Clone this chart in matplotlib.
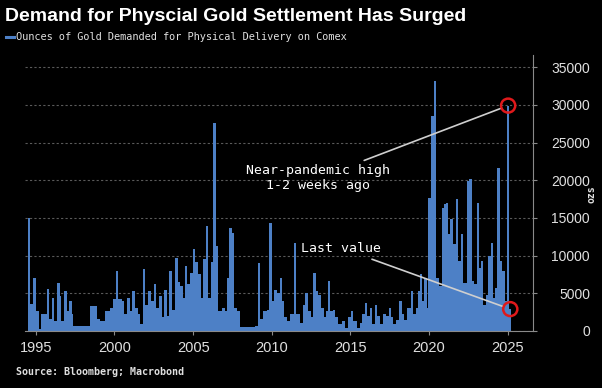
import matplotlib
matplotlib.use("Agg")
import matplotlib.pyplot as plt
from matplotlib.patches import Ellipse

plt.rcParams["font.family"] = ["Liberation Sans", "DejaVu Sans"]

# bin edges (decimal years) and values (ozs)
edges = [
    1994.50, 1994.63, 1994.82, 1995.04, 1995.20, 1995.33, 1995.71, 1995.84,
    1996.03, 1996.16, 1996.35, 1996.51, 1996.63, 1996.79, 1996.95, 1997.11,
    1997.27, 1997.36, 1998.45, 1998.86, 1999.08, 1999.40, 1999.72, 1999.91,
    2000.10, 2000.22, 2000.45, 2000.61, 2000.77, 2000.99, 2001.12, 2001.31,
    2001.47, 2001.62, 2001.81, 2001.97, 2002.13, 2002.32, 2002.51, 2002.67,
    2002.83, 2002.99, 2003.15, 2003.31, 2003.47, 2003.63, 2003.85, 2004.01,
    2004.17, 2004.33, 2004.49, 2004.64, 2004.80, 2004.99, 2005.12, 2005.31,
    2005.50, 2005.63, 2005.82, 2005.95, 2006.14, 2006.27, 2006.46, 2006.58,
    2006.81, 2007.03, 2007.15, 2007.28, 2007.44, 2007.60, 2007.76, 2007.98,
    2008.93, 2009.13, 2009.28, 2009.44, 2009.67, 2009.83, 2009.99, 2010.15,
    2010.30, 2010.52, 2010.65, 2010.78, 2010.94, 2011.16, 2011.41, 2011.57,
    2011.80, 2011.99, 2012.14, 2012.30, 2012.49, 2012.62, 2012.78, 2012.94,
    2013.13, 2013.29, 2013.42, 2013.58, 2013.70, 2013.89, 2014.05, 2014.21,
    2014.46, 2014.66, 2014.85, 2015.04, 2015.16, 2015.42, 2015.61, 2015.74,
    2015.93, 2016.05, 2016.25, 2016.40, 2016.56, 2016.69, 2016.88, 2017.07,
    2017.26, 2017.45, 2017.61, 2017.71, 2017.90, 2018.08, 2018.25, 2018.41,
    2018.57, 2018.86, 2018.98, 2019.17, 2019.30, 2019.43, 2019.52, 2019.68,
    2019.84, 2019.93, 2020.12, 2020.31, 2020.47, 2020.63, 2020.79, 2020.95,
    2021.08, 2021.20, 2021.36, 2021.52, 2021.71, 2021.84, 2022.00, 2022.16,
    2022.38, 2022.54, 2022.70, 2022.86, 2023.02, 2023.18, 2023.33, 2023.43,
    2023.59, 2023.75, 2023.94, 2024.07, 2024.20, 2024.32, 2024.51, 2024.61,
    2024.80, 2024.95, 2025.10, 2025.22,
]
values = [
    15000, 3600, 7000, 2600, 300, 2200, 5600, 1600,
    4400, 1300, 6400, 4600, 1300, 5300, 2600, 4000,
    2200, 700, 3300, 1600, 1300, 2600, 3000, 4300,
    8000, 4200, 4000, 2200, 4400, 2600, 5300, 3000,
    2200, 900, 8200, 3500, 5300, 4000, 6200, 3000,
    4600, 1800, 5500, 2000, 8000, 2800, 9700, 6500,
    6000, 4400, 8600, 6200, 7700, 10900, 9100, 7500,
    4400, 9500, 13900, 4400, 9100, 27600, 11300, 2600,
    3000, 2600, 7000, 13700, 13000, 3000, 2600, 500,
    700, 9000, 1600, 2600, 2800, 14300, 4000, 5500,
    5000, 7000, 4000, 1800, 1300, 2200, 11700, 2200,
    1000, 3500, 5000, 2600, 1800, 7700, 5300, 4800,
    3000, 1800, 2600, 6600, 2600, 2800, 1800, 900,
    1300, 400, 1800, 2700, 1300, 400, 1100, 2200,
    3700, 2000, 3100, 900, 3500, 2000, 900, 2200,
    2000, 3100, 1800, 900, 1500, 4000, 2200, 1500,
    3100, 5300, 2200, 3100, 5300, 7600, 4000, 7000,
    3000, 17600, 28500, 33200, 7000, 6000, 16300, 16800,
    17000, 12900, 14900, 11500, 17500, 9300, 12900, 6400,
    19900, 20200, 6600, 6200, 17000, 8400, 9300, 3500,
    4800, 9900, 11700, 4400, 5700, 21600, 9300, 8000,
    4000, 29900, 2900,
]

yticks = [0, 5000, 10000, 15000, 20000, 25000, 30000, 35000]
xticks = [1995, 2000, 2005, 2010, 2015, 2020, 2025]

BG = "black"
BLUE = "#4d80c6"
TXT = "#e0e0e0"
MONO = "DejaVu Sans Mono"

fig = plt.figure(figsize=(6.02, 3.88), dpi=100, facecolor=BG)
ax = fig.add_axes([0.0415, 0.147, 0.844, 0.711], facecolor=BG)

ax.stairs(values, edges, fill=True, color=BLUE, linewidth=0)

ax.set_xlim(1994.31, 2026.61)
ax.set_ylim(0, 36600)
ax.set_xticks(xticks)
ax.set_yticks(yticks)
ax.yaxis.tick_right()
ax.grid(axis="y", color="#5a5a5a", linestyle=(0, (2, 2)), linewidth=0.8)
ax.set_axisbelow(True)

for side in ["top", "left"]:
    ax.spines[side].set_visible(False)
for side in ["bottom", "right"]:
    ax.spines[side].set_color("#8a8a8a")
    ax.spines[side].set_linewidth(0.8)

ax.tick_params(axis="x", colors="#8a8a8a", length=3, labelcolor=TXT,
               labelsize=10.5, pad=4)
ax.tick_params(axis="y", colors="#8a8a8a", length=3, labelcolor=TXT,
               labelsize=10, pad=38)
for lab in ax.get_yticklabels():
    lab.set_horizontalalignment("right")

fig.text(0.983, 0.50, "ozs", rotation=90, color=TXT, fontsize=7,
         fontweight="bold", ha="center", va="center", family=MONO)

# title, legend key, source
fig.text(0.008, 0.957, "Demand for Physcial Gold Settlement Has Surged",
         color="white", fontsize=14, fontweight="bold", va="center")
fig.add_artist(plt.Line2D([0.010, 0.024], [0.905, 0.905], color=BLUE, lw=2.2))
fig.text(0.027, 0.905, "Ounces of Gold Demanded for Physical Delivery on Comex",
         color=TXT, fontsize=7.4, family=MONO, va="center")
fig.text(0.027, 0.041, "Source: Bloomberg; Macrobond", color=TXT,
         fontsize=7.2, fontweight="bold", family=MONO, va="center")

# annotations
hi_x, hi_y = (edges[-3] + edges[-2]) / 2, values[-2]
lo_x, lo_y = (edges[-2] + edges[-1]) / 2, values[-1]
ax.annotate("Near-pandemic high\n1-2 weeks ago", xy=(hi_x, hi_y),
            xytext=(2012.95, 20300), color="white", fontsize=9.5,
            family=MONO, ha="center", va="center", linespacing=1.15,
            arrowprops=dict(arrowstyle="-", color="#cfcfcf", lw=1.2,
                            shrinkA=2, shrinkB=6))
ax.annotate("Last value", xy=(lo_x, lo_y), xytext=(2014.4, 11000),
            color="white", fontsize=9.5, family=MONO,
            ha="center", va="center",
            arrowprops=dict(arrowstyle="-", color="#cfcfcf", lw=1.2,
                            shrinkA=4, shrinkB=6))

for cx, cy in [(hi_x, hi_y), (lo_x, lo_y)]:
    ax.add_patch(Ellipse((cx, cy), width=0.9, height=1850, fill=False,
                         edgecolor="#e0191b", lw=1.8, zorder=5))

fig.savefig("out.png", dpi=100, facecolor=BG)
